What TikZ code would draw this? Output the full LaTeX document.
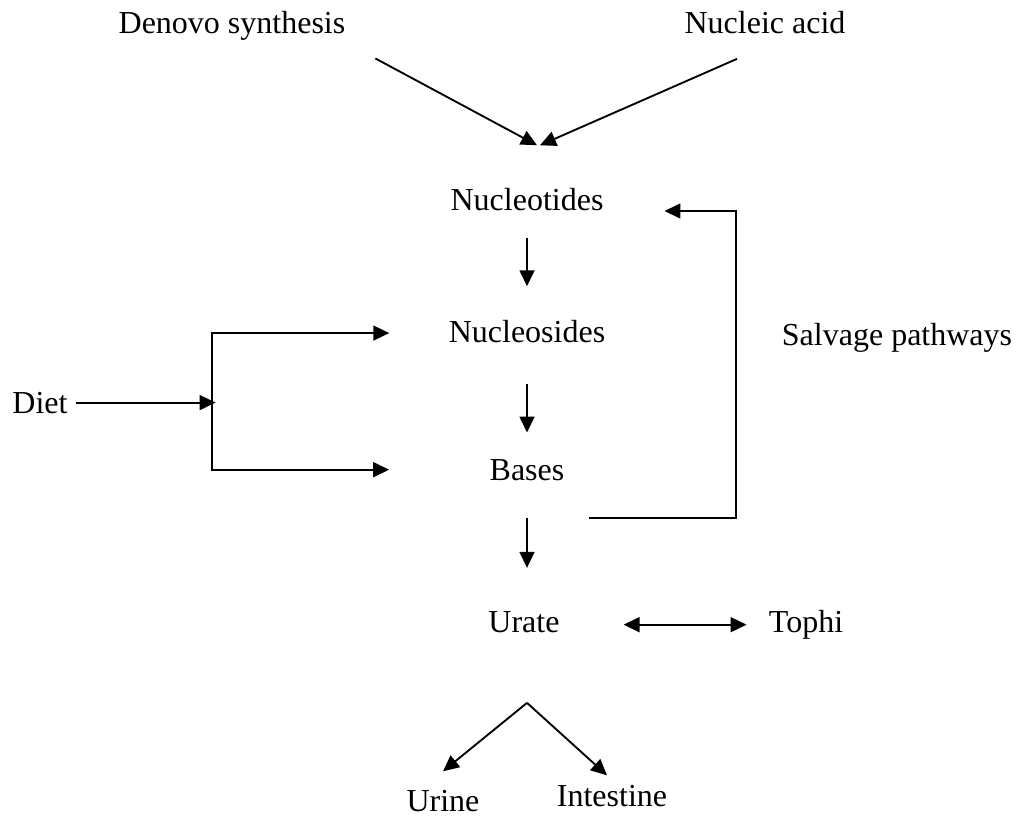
\documentclass[tikz,border=0pt]{standalone}
\usepackage{fontspec}
\setmainfont{Liberation Serif}
\usetikzlibrary{arrows.meta, calc}

\begin{document}
\begin{tikzpicture}[
        x=0.375pt, y=-0.375pt,
        font=\fontsize{12}{14}\selectfont,
        term/.style={
            inner sep=0pt,
            anchor=base
        },
        arrow/.style={
            -{Triangle[length=6pt, width=5.6pt]},
            line width=0.7pt
        },
        twoway/.style={
            {Triangle[length=6pt, width=5.6pt]}-{Triangle[length=6pt, width=5.6pt]},
            line width=0.7pt
        }
    ]

    \useasboundingbox (0,0) rectangle (1021,817);

    \node[term] (denovo) at (232,33) {Denovo synthesis};
    \node[term] (nacid) at (765,33) {Nucleic acid};
    \node[term] (ntides) at (527,210) {Nucleotides};
    \node[term] (nsides) at (527,342) {Nucleosides};
    \node[term] (bases) at (527,480) {Bases};
    \node[term] (urate) at (524,632) {Urate};
    \node[term] (tophi) at (806,632) {Tophi};
    \node[term] (urine) at (443,811) {Urine};
    \node[term] (intest) at (612,806) {Intestine};
    \node[term] (diet) at (40,413) {Diet};
    \node[term] (salv) at (897,345) {Salvage pathways};

    \coordinate (split) at ($(diet.east)+(143.5,0)$);
    \coordinate (apex) at ($(bases.south)+(0,222)$);

    % sources
    \draw[arrow] ($(denovo.south east)+(29.5,18)$) -- ($(ntides.north)+(10,-42)$);
    \draw[arrow] ($(nacid.south)+(-28,25)$) -- ($(ntides.north)+(13,-42)$);

    % breakdown
    \draw[arrow] ($(ntides.south)+(0,27)$) -- ($(nsides.north)+(0,-33)$);
    \draw[arrow] ($(nsides.south)+(0,41)$) -- ($(bases.north)+(0,-26)$);
    \draw[arrow] ($(bases.south)+(0,37)$) -- ($(bases.south)+(0,87)$);

    % diet
    \draw[arrow] ($(diet.east)+(7.5,0)$) -- ($(split)+(4,0)$);
    \draw[twoway] ($(nsides.west)+(-59,2)$) -| (split) |- ($(bases.west)+(-100,0)$);

    % salvage
    \draw[arrow] ($(bases.base east)+(24.5,38)$) -| ($(salv.west)+(-45,0)$)
        |- ($(ntides.base east)+(60.5,1)$);

    \draw[twoway] ($(urate.east)+(63.5,3)$) -- ++(123,0);

    \draw[arrow] (apex) -- ($(urine.north)+(0,-18)$);
    \draw[arrow] (apex) -- ($(intest.north)+(-5,-9)$);

\end{tikzpicture}
\end{document}
